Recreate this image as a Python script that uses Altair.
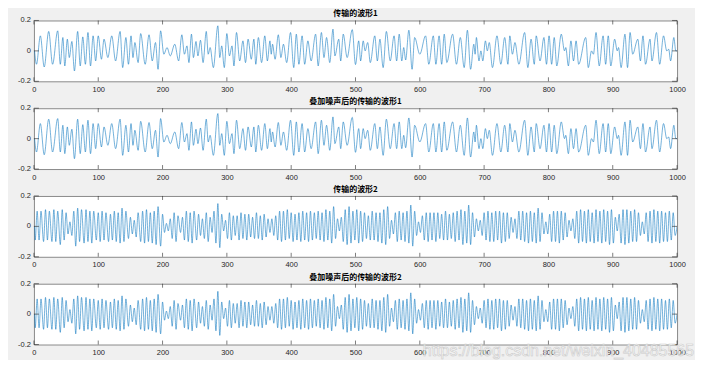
import altair as alt
import pandas as pd

# ---------------- data ----------------
x_ticks = [0, 100, 200, 300, 400, 500, 600, 700, 800, 900, 1000]
y_ticks = [-0.2, 0, 0.2]
y_labels = ["-0.2", "0", "0.2"]

titles = ["传输的波形1", "叠加噪声后的传输的波形1", "传输的波形2", "叠加噪声后的传输的波形2"]

# waveform 1: (sample, value) at turning points
wave1 = [
    (1, 0.0), (4, -0.088), (10, 0.099), (16, -0.106), (23, 0.128), (29, -0.088), (37, 0.132), (41, -0.088), (45, 0.088), (48, -0.099),
    (52, 0.077), (55, -0.044), (59, 0.062), (63, -0.132), (68, 0.128), (72, -0.099), (76, 0.092), (80, -0.088), (84, 0.121), (88, -0.099),
    (92, 0.099), (96, -0.066), (100, 0.099), (105, -0.055), (109, 0.077), (115, -0.044), (121, 0.099), (127, -0.066), (134, 0.128), (138, -0.11),
    (143, 0.088), (147, -0.088), (151, 0.099), (154, -0.044), (157, 0.055), (162, -0.077), (166, 0.114), (173, -0.088), (179, 0.106), (184, -0.066),
    (189, 0.055), (193, -0.121), (197, 0.132), (202, -0.022), (207, 0.022), (212, -0.033), (219, 0.044), (225, -0.066), (230, 0.106), (234, -0.022),
    (238, 0.033), (241, -0.077), (245, 0.11), (248, -0.044), (252, 0.062), (255, -0.033), (259, 0.07), (263, -0.077), (268, 0.128), (271, -0.022),
    (274, 0.022), (279, -0.11), (286, 0.165), (289, -0.044), (292, 0.033), (296, -0.11), (300, 0.114), (304, -0.033), (308, 0.033), (311, -0.099),
    (315, 0.121), (320, -0.066), (325, 0.066), (329, -0.077), (333, 0.077), (338, -0.055), (342, 0.077), (345, -0.088), (349, 0.088), (354, -0.077),
    (359, 0.099), (363, -0.066), (367, 0.066), (369, -0.022), (371, 0.044), (375, -0.055), (380, 0.106), (384, -0.044), (388, 0.044), (393, -0.077),
    (399, 0.121), (404, -0.11), (408, 0.11), (412, -0.088), (417, 0.099), (421, -0.088), (426, 0.066), (431, -0.066), (438, 0.11), (442, -0.099),
    (447, 0.121), (451, -0.044), (455, 0.088), (460, -0.077), (465, 0.143), (468, -0.033), (474, 0.077), (477, -0.066), (481, 0.11), (487, -0.044),
    (495, 0.14), (500, -0.09), (505, 0.066), (508, -0.066), (512, 0.066), (515, 0.0), (519, 0.055), (523, -0.077), (530, 0.099), (534, -0.066),
    (538, 0.077), (543, -0.11), (548, 0.128), (554, -0.066), (560, 0.099), (564, -0.066), (568, 0.11), (572, -0.066), (575, 0.022), (578, -0.06),
    (583, 0.136), (588, -0.121), (592, 0.088), (600, -0.022), (609, 0.099), (614, -0.088), (621, 0.099), (625, -0.088), (630, 0.099), (634, -0.088),
    (638, 0.11), (642, -0.077), (651, 0.11), (657, -0.088), (663, 0.088), (669, -0.11), (674, 0.136), (679, -0.121), (684, 0.044), (686, -0.022),
    (688, 0.088), (692, -0.066), (695, 0.0), (698, -0.066), (702, 0.066), (705, 0.0), (708, 0.055), (713, -0.11), (720, 0.099), (726, -0.088),
    (732, 0.088), (737, -0.088), (740, 0.099), (744, -0.022), (748, 0.055), (754, -0.088), (763, 0.121), (768, -0.11), (773, 0.077), (778, -0.088),
    (781, 0.099), (787, -0.066), (793, 0.088), (797, -0.088), (801, 0.099), (805, -0.088), (809, 0.088), (813, -0.099), (820, 0.11), (825, 0.0),
    (827, 0.022), (831, -0.099), (835, 0.066), (839, -0.066), (843, 0.066), (847, -0.088), (858, 0.088), (862, -0.11), (867, 0.0), (870, -0.022),
    (874, 0.121), (879, -0.099), (885, 0.099), (889, -0.088), (893, 0.099), (897, -0.099), (903, 0.077), (907, 0.0), (909, 0.022), (913, -0.11),
    (919, 0.11), (923, -0.11), (927, 0.121), (931, -0.022), (939, 0.077), (943, -0.066), (947, 0.099), (951, -0.088), (958, 0.077), (961, -0.066),
    (968, 0.121), (973, -0.088), (979, 0.099), (984, 0.0), (987, 0.011), (990, -0.066), (995, 0.088), (998, 0.0), (1000, 0.0),
]

# waveform 2: (sample, value) at turning points
wave2 = [
    (1, 0.0), (2, -0.09), (5, 0.10), (8, -0.09), (11, 0.10), (15, -0.10), (18, 0.11), (21, -0.09), (24, 0.10), (28, -0.10),
    (31, 0.11), (34, -0.10), (37, 0.10), (41, -0.12), (44, 0.11), (47, -0.09), (50, 0.09), (53, -0.05), (56, 0.03), (59, -0.06),
    (62, 0.10), (65, -0.13), (68, 0.12), (71, -0.10), (74, 0.11), (78, -0.11), (81, 0.11), (84, -0.10), (87, 0.10), (90, -0.11),
    (93, 0.10), (97, -0.09), (100, 0.09), (103, -0.10), (106, 0.10), (109, -0.09), (112, 0.09), (116, -0.10), (119, 0.08), (122, -0.09),
    (125, 0.10), (128, -0.10), (131, 0.09), (134, -0.11), (137, 0.12), (140, -0.10), (143, 0.10), (147, -0.08), (150, 0.06), (153, -0.05),
    (156, 0.04), (159, -0.07), (162, 0.09), (166, -0.10), (169, 0.10), (172, -0.11), (175, 0.11), (178, -0.10), (181, 0.09), (184, -0.11),
    (187, 0.10), (190, -0.12), (193, 0.13), (197, -0.13), (200, 0.08), (203, -0.04), (206, 0.02), (209, -0.03), (212, 0.05), (215, -0.08),
    (218, 0.09), (221, -0.10), (224, 0.07), (228, -0.04), (231, 0.06), (234, -0.09), (237, 0.10), (240, -0.10), (243, 0.09), (246, -0.11),
    (249, 0.10), (253, -0.09), (256, 0.08), (259, -0.06), (262, 0.05), (265, -0.08), (268, 0.09), (271, -0.10), (274, 0.06), (277, -0.04),
    (280, 0.10), (283, -0.11), (286, 0.15), (289, -0.14), (292, 0.08), (295, -0.03), (298, 0.04), (301, -0.08), (304, 0.09), (307, -0.09),
    (310, 0.07), (313, -0.06), (316, 0.07), (319, -0.09), (322, 0.09), (325, -0.08), (328, 0.08), (331, -0.09), (334, 0.08), (337, -0.07),
    (340, 0.06), (343, -0.08), (346, 0.09), (349, -0.08), (352, 0.07), (355, -0.09), (358, 0.08), (361, -0.07), (364, 0.05), (367, -0.04),
    (370, 0.05), (373, -0.06), (376, 0.07), (379, -0.09), (382, 0.10), (385, -0.10), (388, 0.10), (391, -0.09), (394, 0.11), (397, -0.08),
    (400, 0.09), (403, -0.10), (406, 0.08), (409, -0.09), (412, 0.09), (415, -0.10), (418, 0.10), (421, -0.09), (424, 0.09), (427, -0.10),
    (430, 0.10), (433, -0.09), (436, 0.09), (439, -0.08), (442, 0.10), (445, -0.09), (448, 0.09), (451, -0.10), (454, 0.11), (457, -0.09),
    (460, 0.10), (463, -0.11), (466, 0.13), (469, -0.08), (472, 0.05), (475, -0.03), (478, 0.06), (481, -0.10), (484, 0.11), (487, -0.12),
    (490, 0.13), (493, -0.11), (496, 0.10), (499, -0.09), (502, 0.11), (505, -0.11), (508, 0.10), (511, -0.10), (514, 0.09), (517, -0.08),
    (520, 0.07), (523, -0.09), (526, 0.10), (529, -0.09), (532, 0.09), (535, -0.10), (538, 0.09), (541, -0.11), (544, 0.11), (547, -0.12),
    (550, 0.13), (553, -0.08), (556, 0.04), (559, -0.05), (562, 0.09), (565, -0.10), (568, 0.10), (571, -0.09), (574, 0.09), (577, -0.10),
    (580, 0.10), (583, -0.11), (586, 0.14), (589, -0.13), (592, 0.10), (595, -0.06), (598, 0.03), (601, -0.04), (604, 0.07), (607, -0.09),
    (610, 0.09), (613, -0.10), (616, 0.09), (619, -0.09), (622, 0.09), (625, -0.10), (628, 0.09), (631, -0.08), (634, 0.08), (637, -0.09),
    (640, 0.10), (643, -0.09), (646, 0.08), (649, -0.08), (652, 0.09), (655, -0.10), (658, 0.10), (661, -0.09), (664, 0.11), (667, -0.12),
    (670, 0.10), (673, -0.11), (676, 0.14), (679, -0.12), (682, 0.09), (685, -0.07), (688, 0.05), (691, -0.03), (694, 0.04), (697, -0.06),
    (700, 0.09), (703, -0.09), (706, 0.10), (709, -0.10), (712, 0.09), (715, -0.10), (718, 0.10), (721, -0.09), (724, 0.10), (727, -0.11),
    (730, 0.09), (733, -0.10), (736, 0.09), (739, -0.08), (742, 0.06), (745, -0.04), (748, 0.05), (751, -0.08), (754, 0.10), (757, -0.09),
    (760, 0.10), (763, -0.10), (766, 0.09), (769, -0.11), (772, 0.10), (775, -0.10), (778, 0.09), (781, -0.11), (784, 0.12), (787, -0.10),
    (790, 0.09), (793, -0.05), (796, 0.03), (799, -0.05), (802, 0.08), (805, -0.10), (808, 0.10), (811, -0.10), (814, 0.10), (817, -0.11),
    (820, 0.10), (823, -0.09), (826, 0.09), (829, -0.07), (832, 0.04), (835, -0.03), (838, 0.05), (841, -0.08), (844, 0.10), (847, -0.11),
    (850, 0.11), (853, -0.10), (856, 0.10), (859, -0.11), (862, 0.11), (865, -0.10), (868, 0.09), (871, -0.11), (874, 0.11), (877, -0.10),
    (880, 0.10), (883, -0.11), (886, 0.11), (889, -0.10), (892, 0.10), (895, -0.12), (898, 0.11), (901, -0.11), (904, 0.06), (907, -0.03),
    (910, 0.08), (913, -0.11), (916, 0.11), (919, -0.12), (922, 0.11), (925, -0.11), (928, 0.10), (931, -0.10), (934, 0.11), (937, -0.10),
    (940, 0.09), (943, -0.06), (946, 0.03), (949, -0.05), (952, 0.09), (955, -0.10), (958, 0.10), (961, -0.11), (964, 0.11), (967, -0.10),
    (970, 0.10), (973, -0.11), (976, 0.10), (979, -0.10), (982, 0.09), (985, -0.10), (988, 0.10), (991, -0.09), (994, 0.09), (997, -0.06),
    (1000, 0.0),
]

# the added noise is too small to be seen at this size
noisy1 = list(wave1)
noisy2 = list(wave2)

watermark = "https://blog.csdn.net/weixin_40485565"

# ---------------- chart ----------------
W, H = 645, 61
LINE = "#0072BD"
AX = "#262626"
FONT = "Liberation Sans"

xt_df = pd.DataFrame({"n": x_ticks})
yt_df = pd.DataFrame({"v": y_ticks, "lab": y_labels})

x_scale = alt.Scale(domain=[0, 1000], nice=False, zero=False)
y_scale = alt.Scale(domain=[-0.2, 0.2], nice=False, zero=False)

x_enc = alt.X(
    "n:Q", scale=x_scale,
    axis=alt.Axis(values=x_ticks, title=None, tickSize=0, domain=False, grid=False,
                  labelFontSize=7.5, labelPadding=4, labelColor=AX, labelFont=FONT,
                  labelFlush=False, labelOverlap=False, format="d"),
)
# y labels are drawn by a text layer (below), so the axis itself only keeps the scale
y_enc = alt.Y(
    "v:Q", scale=y_scale,
    axis=alt.Axis(values=y_ticks, title=None, ticks=False, labels=False, domain=False,
                  grid=False),
)


def panel(pairs, title, mark_text=False):
    df = pd.DataFrame(pairs, columns=["n", "v"])
    line = alt.Chart(df).mark_line(color=LINE, strokeWidth=0.55, interpolate="monotone",
                                   clip=True).encode(x=x_enc, y=y_enc)
    tick_top = alt.Chart(xt_df).mark_rule(color=AX, strokeWidth=0.6).encode(
        x=x_enc, y=alt.value(0), y2=alt.value(4))
    tick_bot = alt.Chart(xt_df).mark_rule(color=AX, strokeWidth=0.6).encode(
        x=x_enc, y=alt.value(H), y2=alt.value(H - 4))
    tick_l = alt.Chart(yt_df).mark_rule(color=AX, strokeWidth=0.6).encode(
        y=y_enc, x=alt.value(0), x2=alt.value(5))
    tick_r = alt.Chart(yt_df).mark_rule(color=AX, strokeWidth=0.6).encode(
        y=y_enc, x=alt.value(W), x2=alt.value(W - 5))
    ylab = alt.Chart(yt_df).mark_text(
        align="right", baseline="middle", fontSize=7.5, font=FONT, color=AX,
    ).encode(y=y_enc, x=alt.value(-3), text="lab:N")
    layers = [line, tick_top, tick_bot, tick_l, tick_r, ylab]
    if mark_text:
        wm = alt.Chart(pd.DataFrame({"s": [watermark]})).mark_text(
            align="right", baseline="middle", fontSize=16, font="Liberation Sans",
            color="#ffffff", stroke="#c4c4c4", strokeWidth=0.6, opacity=0.85,
        ).encode(text="s:N", x=alt.value(W + 17), y=alt.value(H + 6))
        layers.append(wm)
    return alt.layer(*layers).properties(
        width=W, height=H,
        title=alt.TitleParams(title, fontSize=8, fontWeight="bold", font="Noto Sans CJK SC",
                              color="#000000", offset=-2, anchor="middle"),
    )


chart = alt.vconcat(
    panel(wave1, titles[0]),
    panel(noisy1, titles[1]),
    panel(wave2, titles[2]),
    panel(noisy2, titles[3], mark_text=True),
    spacing=4,
).properties(
    background="#f0f0f0",
    padding={"left": 9, "top": 1, "right": 0, "bottom": 0},
).configure_view(
    fill="#ffffff", stroke="#8a8a8a", strokeWidth=1,
)

chart.save("out.html", embed_options={"renderer": "svg", "actions": False})
